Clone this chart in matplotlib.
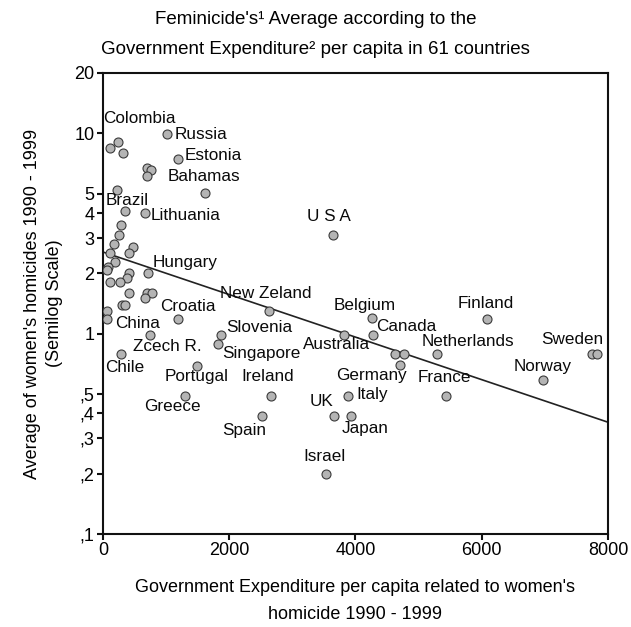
import numpy as np
import matplotlib.pyplot as plt
from matplotlib.ticker import FixedLocator, NullLocator

plt.rcParams['font.family'] = ['Liberation Sans', 'DejaVu Sans']

# Government expenditure per capita and women's homicide average, 61 countries
expenditure = [1009, 242, 111, 322, 1193, 705, 760, 692, 1616, 227,
               348, 665, 285, 258, 174, 470, 417, 111, 190, 84,
               59, 718, 417, 375, 111, 269, 417, 692, 771, 665,
               296, 348, 68, 68, 1183, 2634, 744, 1869, 1817, 285,
               1484, 1299, 2661, 2514, 3648, 4256, 4272, 3817, 4625, 4768,
               4704, 5291, 3876, 3664, 3928, 3532, 5433, 6078, 7742, 7820,
               6965]
homicides = [9.89, 9.08, 8.42, 8.0, 7.42, 6.71, 6.56, 6.12, 5.02, 5.21,
             4.11, 4.02, 3.48, 3.10, 2.80, 2.72, 2.52, 2.52, 2.29, 2.16,
             2.08, 2.01, 2.01, 1.89, 1.82, 1.82, 1.60, 1.60, 1.60, 1.50,
             1.39, 1.39, 1.30, 1.19, 1.19, 1.30, 0.98, 0.99, 0.89, 0.79,
             0.69, 0.49, 0.49, 0.39, 3.10, 1.20, 0.98, 0.98, 0.79, 0.79,
             0.70, 0.79, 0.49, 0.39, 0.39, 0.20, 0.49, 1.19, 0.79, 0.79,
             0.59]

# country names and where their text sits
label_names = ['Colombia', 'Russia', 'Estonia', 'Bahamas', 'Brazil', 'Lithuania',
               'Hungary', 'New Zeland', 'Croatia', 'China', 'Slovenia', 'Singapore',
               'Zcech R.', 'Chile', 'Portugal', 'Greece', 'Ireland', 'Spain',
               'U S A', 'Belgium', 'Canada', 'Australia', 'Germany', 'Italy',
               'UK', 'Japan', 'Israel', 'France', 'Netherlands', 'Finland',
               'Sweden', 'Norway']
label_x = [10, 1140, 1299, 1019, 48, 760,
           787, 1853, 914, 190, 1948, 1896,
           480, 32, 982, 649, 2197, 1896,
           3226, 3648, 4335, 3173, 3702, 4008,
           3268, 3781, 3173, 4979, 5048, 5612,
           6949, 6510]
label_y = [11.8, 9.89, 7.72, 6.12, 4.64, 3.88,
           2.26, 1.59, 1.37, 1.13, 1.07, 0.80,
           0.86, 0.676, 0.61, 0.432, 0.614, 0.330,
           3.83, 1.39, 1.09, 0.885, 0.62, 0.498,
           0.457, 0.337, 0.243, 0.605, 0.912, 1.42,
           0.936, 0.689]

y_ticks = [0.1, 0.2, 0.3, 0.4, 0.5, 1, 2, 3, 4, 5, 10, 20]
y_tick_labels = [',1', ',2', ',3', ',4', ',5', '1', '2', '3', '4', '5', '10', '20']
x_ticks = [0, 2000, 4000, 6000, 8000]

fig = plt.figure(figsize=(6.31, 6.27), dpi=100)
ax = fig.add_axes([0.163, 0.1483, 0.8005, 0.7353])

ax.scatter(expenditure, homicides, s=42, facecolor='#b4b4b4',
           edgecolor='#3a3a3a', linewidth=0.8, zorder=3)

# log-linear fit (semilog regression)
x = np.array(expenditure, dtype=float)
slope, intercept = np.polyfit(x, np.log10(homicides), 1)
xs = np.array([0, 8000])
ax.plot(xs, 10 ** (intercept + slope * xs), color='#222222', lw=1.2, zorder=2)

for name, lx, ly in zip(label_names, label_x, label_y):
    ax.text(lx, ly, name, fontsize=12.3, ha='left', va='center', color='#0a0a0a', zorder=4)

ax.set_yscale('log')
ax.set_xlim(0, 8000)
ax.set_ylim(0.1, 20)
ax.yaxis.set_major_locator(FixedLocator(y_ticks))
ax.yaxis.set_minor_locator(NullLocator())
ax.set_yticklabels(y_tick_labels)
ax.set_xticks(x_ticks)
ax.tick_params(axis='both', labelsize=13, length=4, width=1.5, color='#111111', pad=2)

for sp in ax.spines.values():
    sp.set_linewidth(1.5)
    sp.set_color('#111111')

ax.set_xlabel("Government Expenditure per capita related to women's\nhomicide 1990 - 1999",
              fontsize=13, linespacing=1.8, labelpad=14)
ax.set_ylabel("Average of women's homicides 1990 - 1999\n(Semilog Scale)",
              fontsize=13, linespacing=1.4, labelpad=8)

fig.text(0.5, 0.982, "Feminicide's\u00b9 Average according to the\nGovernment Expenditure\u00b2 per capita in 61 countries",
         ha='center', va='top', fontsize=13.5, linespacing=1.95,
         family=['Liberation Sans Narrow', 'Liberation Sans'])

fig.savefig('out.png', dpi=100)
